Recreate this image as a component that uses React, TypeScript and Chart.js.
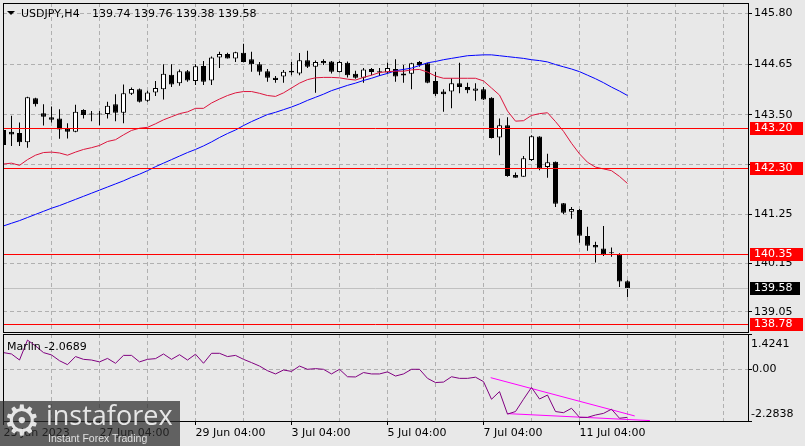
import React, { useEffect, useRef } from 'react';
import { Chart, registerables } from 'chart.js';
Chart.register(...registerables);

// ---------- data (H4 bars, index 0 = 23 Jun 2023 04:00) ----------
const opens = [143.16,143.12,143.09,142.88,143.88,143.54,143.45,143.42,143.19,143.12,143.61,143.52,143.51,143.52,143.74,143.55,143.98,144.08,143.82,144.01,144.08,144.41,144.22,144.49,144.27,144.61,144.28,144.80,144.88,144.78,144.91,144.76,144.65,144.49,144.34,144.37,144.50,144.44,144.74,144.59,144.72,144.71,144.47,144.68,144.43,144.34,144.54,144.49,144.46,144.54,144.44,144.43,144.70,144.67,144.27,144.03,144.03,144.22,144.13,144.05,144.08,143.89,142.99,143.27,142.14,142.10,142.48,143.01,142.32,142.44,141.50,141.31,141.35,140.76,140.56,140.48,140.38,140.35,139.74];
const highs = [143.21,143.48,143.33,143.91,143.89,143.74,143.69,143.63,143.31,143.73,143.63,143.59,143.59,143.80,143.97,144.19,144.12,144.10,144.05,144.27,144.65,144.65,144.53,144.52,144.65,144.72,144.82,144.93,144.91,144.93,145.11,144.93,144.70,144.54,144.38,144.52,144.70,144.90,144.95,144.73,144.76,144.72,144.72,144.71,144.50,144.56,144.56,144.56,144.68,144.76,144.63,144.68,144.72,144.68,144.48,144.08,144.33,144.68,144.23,144.22,144.13,143.90,143.42,143.45,142.20,142.57,143.04,143.02,142.62,142.45,141.51,141.42,141.37,140.97,140.63,140.99,140.50,140.37,139.76];
const lows = [142.80,142.80,142.80,142.76,143.69,143.26,143.33,142.96,142.97,143.11,143.42,143.36,143.27,143.42,143.36,143.31,143.95,143.78,143.80,143.93,143.85,144.13,144.16,144.25,144.18,144.18,144.18,144.56,144.78,144.70,144.69,144.48,144.40,144.25,144.23,144.23,144.40,144.40,144.56,144.00,144.63,144.44,144.46,144.35,144.32,144.23,144.40,144.38,144.44,144.25,144.23,144.08,144.59,144.22,143.93,143.57,143.65,143.99,143.99,143.82,143.84,142.97,142.59,142.10,142.08,142.10,142.46,142.25,142.08,141.42,141.26,141.15,140.61,140.43,140.16,140.31,140.29,139.61,139.38];
const closes = [142.82,143.06,142.88,143.90,143.74,143.46,143.39,143.17,143.12,143.57,143.50,143.51,143.52,143.71,143.55,143.99,144.09,143.80,144.01,144.11,144.43,144.19,144.49,144.28,144.60,144.25,144.80,144.88,144.78,144.92,144.70,144.65,144.48,144.34,144.29,144.48,144.46,144.74,144.59,144.70,144.67,144.48,144.70,144.40,144.34,144.53,144.47,144.46,144.56,144.37,144.39,144.67,144.63,144.23,143.97,143.97,144.22,144.13,144.06,144.10,143.85,142.98,143.27,142.12,142.08,142.52,143.02,142.29,142.43,141.49,141.29,141.37,140.77,140.54,140.50,140.35,140.37,139.73,139.58];
const maFast = [142.39,142.41,142.36,142.49,142.59,142.65,142.66,142.64,142.59,142.66,142.72,142.76,142.81,142.90,142.94,143.05,143.15,143.20,143.22,143.30,143.39,143.46,143.53,143.57,143.65,143.65,143.77,143.86,143.94,144.00,144.03,144.03,143.99,143.94,143.92,144.00,144.11,144.22,144.30,144.34,144.35,144.35,144.34,144.31,144.29,144.35,144.40,144.46,144.48,144.49,144.49,144.52,144.53,144.47,144.38,144.33,144.33,144.33,144.33,144.33,144.27,144.11,143.95,143.59,143.36,143.37,143.49,143.53,143.55,143.35,143.13,142.86,142.62,142.43,142.32,142.28,142.24,142.11,141.95];
const maSlow = [140.99,141.05,141.11,141.18,141.25,141.32,141.39,141.45,141.52,141.59,141.66,141.73,141.80,141.87,141.94,142.01,142.09,142.16,142.24,142.33,142.41,142.49,142.57,142.65,142.72,142.80,142.89,142.99,143.08,143.16,143.26,143.35,143.43,143.51,143.56,143.62,143.68,143.75,143.83,143.90,143.97,144.05,144.11,144.17,144.22,144.28,144.33,144.39,144.44,144.50,144.53,144.56,144.62,144.68,144.71,144.75,144.78,144.81,144.84,144.85,144.86,144.86,144.84,144.82,144.80,144.78,144.75,144.73,144.70,144.64,144.59,144.54,144.48,144.40,144.32,144.23,144.13,144.04,143.94];
const marlin = [0.72,0.66,0.40,1.26,1.01,0.72,0.62,0.37,0.20,0.55,0.43,0.40,0.32,0.47,0.26,0.60,0.60,0.32,0.43,0.46,0.66,0.43,0.63,0.40,0.65,0.26,0.69,0.69,0.55,0.60,0.43,0.29,0.14,-0.06,-0.20,-0.03,-0.09,0.14,0.00,0.03,0.00,-0.20,0.00,-0.32,-0.33,-0.14,-0.20,-0.20,-0.11,-0.29,-0.20,0.00,0.00,-0.39,-0.57,-0.55,-0.32,-0.39,-0.39,-0.34,-0.53,-1.29,-0.96,-1.93,-1.82,-1.29,-0.78,-1.28,-1.11,-1.82,-1.87,-1.68,-2.07,-2.07,-1.97,-1.90,-1.72,-2.11,-2.07];
const trendUpper = [{ x: 60.9, y: -0.36 }, { x: 78.9, y: -2.01 }];
const trendLower = [{ x: 63.0, y: -1.91 }, { x: 80.8, y: -2.21 }];
const levels = [143.20, 142.30, 140.35, 138.78];
const bidPrice = 139.58;
const priceTicks = [145.80, 144.65, 143.50, 142.375, 141.25, 140.15, 139.05];
const priceTickLabels = ['145.80', '144.65', '143.50', '', '141.25', '140.15', '139.05'];
const timeTickIndex = [0, 12, 24, 36, 48, 60, 72];
const timeTickLabels = ['23 Jun 2023', '27 Jun 04:00', '29 Jun 04:00', '3 Jul 04:00', '5 Jul 04:00', '7 Jul 04:00', '11 Jul 04:00'];
const symbolTitle = 'USDJPY,H4';
const ohlcText = '139.74 139.76 139.38 139.58';
const marlinTitle = 'Marlin -2.0689';
const marlinMaxLabel = '1.4241';
const marlinMinLabel = '-2.2838';

// ---------- layout / style ----------
const BG = '#e8e8e8';
const GRID = '#b0b0b0';
const FONT = { family: 'DejaVu Sans', size: 11 };
const FONT_CSS = '11px "DejaVu Sans"';
const X_MIN = -0.0625;
const X_MAX = 93.0625;
const Y_MIN = 138.59;
const Y_MAX = 146.033;
const M_MIN = -2.228;
const M_MAX = 1.522;
const gridIdx: number[] = [];
for (let k = 0; k <= 90; k += 6) gridIdx.push(k);

const frame = (chart: any) => {
  const { ctx, chartArea: a } = chart;
  ctx.save();
  ctx.strokeStyle = '#000';
  ctx.lineWidth = 1;
  ctx.strokeRect(a.left + 0.5, a.top + 0.5, a.right - a.left, a.bottom - a.top);
  ctx.restore();
};

const mainDeco = {
  id: 'mainDeco',
  afterDatasetsDraw(chart: any) {
    const { ctx, chartArea: a, scales } = chart;
    const y = scales.y;
    ctx.save();
    ctx.beginPath();
    ctx.rect(a.left, a.top, a.right - a.left, a.bottom - a.top);
    ctx.clip();
    ctx.lineWidth = 1;
    const by = Math.round(y.getPixelForValue(bidPrice)) + 0.5;
    ctx.strokeStyle = '#c0c0c0';
    ctx.beginPath(); ctx.moveTo(a.left, by); ctx.lineTo(a.right, by); ctx.stroke();
    ctx.strokeStyle = '#ff0000';
    levels.forEach((l) => {
      const py = Math.round(y.getPixelForValue(l)) + 0.5;
      ctx.beginPath(); ctx.moveTo(a.left, py); ctx.lineTo(a.right, py); ctx.stroke();
    });
    ctx.restore();
  },
  afterDraw(chart: any) {
    const { ctx, chartArea: a, scales } = chart;
    const y = scales.y;
    frame(chart);
    ctx.save();
    ctx.font = FONT_CSS;
    ctx.textBaseline = 'middle';
    ctx.textAlign = 'left';
    const box = (v: number, fill: string, w: number) => {
      const py = Math.round(y.getPixelForValue(v));
      ctx.fillStyle = fill;
      ctx.fillRect(a.right + 2, py - 6, w, 13);
      ctx.fillStyle = '#fff';
      ctx.fillText(v.toFixed(2), a.right + 6, py + 0.5);
    };
    levels.forEach((l) => box(l, '#ff0000', 53));
    box(bidPrice, '#000', 50);
    // title
    ctx.fillStyle = '#000';
    ctx.textBaseline = 'alphabetic';
    ctx.beginPath(); ctx.moveTo(7, 11); ctx.lineTo(15, 11); ctx.lineTo(11, 15); ctx.closePath(); ctx.fill();
    ctx.fillText(symbolTitle, 21, 17);
    ctx.fillText(ohlcText, 92, 17);
    ctx.restore();
  },
};

const indDeco = {
  id: 'indDeco',
  afterDraw(chart: any) {
    const { ctx, chartArea: a } = chart;
    frame(chart);
    ctx.save();
    ctx.font = FONT_CSS;
    ctx.fillStyle = '#000';
    ctx.textBaseline = 'alphabetic';
    ctx.textAlign = 'left';
    ctx.fillText(marlinTitle, 7, 17);
    ctx.textBaseline = 'middle';
    ctx.fillText(marlinMaxLabel, a.right + 3, a.top + 10);
    ctx.fillText(marlinMinLabel, a.right + 3, a.bottom - 7);
    ctx.restore();
  },
};

export default function App() {
  const mainRef = useRef<HTMLCanvasElement>(null);
  const indRef = useRef<HTMLCanvasElement>(null);

  useEffect(() => {
    const bodyColor = (c: any) => {
      const i = c.dataIndex;
      const d = closes[i] - opens[i];
      if (Math.abs(d) < 0.02) return '#000';
      return d > 0 ? '#fff' : '#000';
    };
    const main = new Chart(mainRef.current as HTMLCanvasElement, {
      type: 'bar',
      data: {
        datasets: [
          { type: 'line', label: 'MA fast', data: maFast.map((v, i) => ({ x: i, y: v })), borderColor: '#dc143c', borderWidth: 1, pointRadius: 0, tension: 0, order: 0 } as any,
          { type: 'line', label: 'MA slow', data: maSlow.map((v, i) => ({ x: i, y: v })), borderColor: '#0000ff', borderWidth: 1, pointRadius: 0, tension: 0, order: 0 } as any,
          { type: 'bar', label: 'body', data: opens.map((o, i) => ({ x: i, y: [o, closes[i]] })), backgroundColor: bodyColor, borderColor: '#000', borderWidth: 1, borderSkipped: false, barThickness: 5, maxBarThickness: 5, grouped: false, minBarLength: 1, inflateAmount: 0, order: 1 } as any,
          { type: 'bar', label: 'wick', data: lows.map((l, i) => ({ x: i, y: [l, highs[i]] })), backgroundColor: '#000', borderWidth: 0, barThickness: 1, maxBarThickness: 1, grouped: false, inflateAmount: 0, order: 2 } as any,
        ],
      },
      options: {
        responsive: false,
        animation: false,
        devicePixelRatio: 1,
        layout: { padding: { left: 3, top: 3, right: 0, bottom: 2 } },
        plugins: { legend: { display: false }, tooltip: { enabled: false } },
        scales: {
          x: {
            type: 'linear', min: X_MIN, max: X_MAX, offset: false,
            grid: { offset: false, color: GRID, drawTicks: false },
            border: { display: false, dash: [4, 3] },
            ticks: { display: false },
            afterBuildTicks: (s: any) => { s.ticks = gridIdx.map((v) => ({ value: v })); },
            afterFit: (s: any) => { s.height = 0; s.paddingLeft = 0; s.paddingRight = 0; },
          },
          y: {
            type: 'linear', position: 'right', min: Y_MIN, max: Y_MAX,
            grid: { color: GRID, tickColor: '#000', tickLength: 4 },
            border: { display: false, dash: [4, 3] },
            ticks: { font: FONT, color: '#000', padding: 2, autoSkip: false, callback: (_v: any, i: number) => priceTickLabels[i] },
            afterBuildTicks: (s: any) => { s.ticks = priceTicks.map((v) => ({ value: v })); },
            afterFit: (s: any) => { s.width = 57; s.paddingTop = 0; s.paddingBottom = 0; },
          },
        },
      } as any,
      plugins: [mainDeco],
    });

    const ind = new Chart(indRef.current as HTMLCanvasElement, {
      type: 'line',
      data: {
        datasets: [
          { label: 'Marlin', data: marlin.map((v, i) => ({ x: i, y: v })), borderColor: '#800080', borderWidth: 1, pointRadius: 0, tension: 0 },
          { label: 'trend 1', data: trendUpper, borderColor: '#ff00ff', borderWidth: 1, pointRadius: 0 },
          { label: 'trend 2', data: trendLower, borderColor: '#ff00ff', borderWidth: 1, pointRadius: 0 },
        ],
      },
      options: {
        responsive: false,
        animation: false,
        devicePixelRatio: 1,
        layout: { padding: { left: 3, top: 1, right: 0, bottom: 0 } },
        plugins: { legend: { display: false }, tooltip: { enabled: false } },
        scales: {
          x: {
            type: 'linear', min: X_MIN, max: X_MAX, offset: false,
            grid: {
              color: GRID, tickLength: 4,
              tickColor: (c: any) => (c.tick && timeTickIndex.indexOf(c.tick.value) >= 0 ? '#000' : 'rgba(0,0,0,0)'),
            },
            border: { display: false, dash: [4, 3] },
            ticks: {
              font: FONT, color: '#000', padding: 2, align: 'start', autoSkip: false, maxRotation: 0, minRotation: 0,
              callback: (v: any) => { const j = timeTickIndex.indexOf(Number(v)); return j >= 0 ? timeTickLabels[j] : ''; },
            },
            afterBuildTicks: (s: any) => { s.ticks = gridIdx.map((v) => ({ value: v })); },
            afterFit: (s: any) => { s.height = 25; s.paddingLeft = 0; s.paddingRight = 0; },
          },
          y: {
            type: 'linear', position: 'right', min: M_MIN, max: M_MAX,
            grid: {
              color: (c: any) => (c.tick && c.tick.value === 0 ? GRID : 'rgba(0,0,0,0)'),
              tickColor: '#000', tickLength: 4,
            },
            border: { display: false, dash: [4, 3] },
            ticks: { font: FONT, color: '#000', padding: 0, autoSkip: false, callback: (v: any) => (Number(v) === 0 ? '0.00' : '') },
            afterBuildTicks: (s: any) => { s.ticks = [{ value: M_MAX }, { value: 0 }, { value: M_MIN }]; },
            afterFit: (s: any) => { s.width = 57; s.paddingTop = 0; s.paddingBottom = 0; },
          },
        },
      } as any,
      plugins: [indDeco],
    });

    return () => { main.destroy(); ind.destroy(); };
  }, []);

  return (
    <div style={{ position: 'fixed', left: 0, top: 0, width: 805, height: 446, background: BG, overflow: 'hidden' }}>
      <canvas ref={mainRef} width={805} height={334} style={{ position: 'absolute', left: 0, top: 0 }} />
      <canvas ref={indRef} width={805} height={113} style={{ position: 'absolute', left: 0, top: 333 }} />
      <div style={{ position: 'absolute', left: 0, top: 401, width: 180, height: 45, background: 'rgba(45,45,45,0.72)', zIndex: 2 }}>
        <div style={{ position: 'absolute', left: 3, top: -4, fontSize: 42, lineHeight: '48px', color: 'rgba(255,255,255,0.85)', fontFamily: '"DejaVu Sans"' }}>⚙</div>
        <div style={{ position: 'absolute', left: 46, top: -1, fontSize: 27, lineHeight: '30px', color: 'rgba(255,255,255,0.85)', fontFamily: '"Open Sans"' }}>instaforex</div>
        <div style={{ position: 'absolute', left: 48, top: 31, fontSize: 10.5, lineHeight: '12px', color: 'rgba(255,255,255,0.8)', fontFamily: '"Liberation Sans"', whiteSpace: 'nowrap' }}>Instant Forex Trading</div>
      </div>
    </div>
  );
}
